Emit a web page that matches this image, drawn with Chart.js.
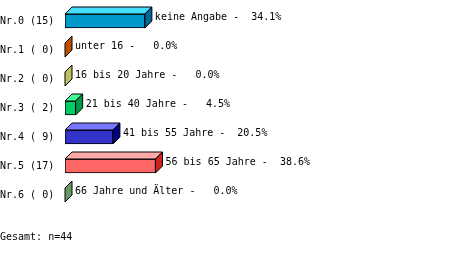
<!DOCTYPE html>
<html>
<head>
<meta charset="utf-8">
<script src="https://cdn.jsdelivr.net/npm/chart.js@4/dist/chart.umd.min.js"></script>
<style>
  html, body { margin: 0; padding: 0; background: #fff; }
  #wrap { width: 459px; height: 253px; }
</style>
</head>
<body>
<div id="wrap"><canvas id="chart"></canvas></div>
<script>
// ----- DATA -----
const categories = ["keine Angabe", "unter 16", "16 bis 20 Jahre", "21 bis 40 Jahre",
  "41 bis 55 Jahre", "56 bis 65 Jahre", "66 Jahre und Älter"];
const counts = [15, 0, 0, 2, 9, 17, 0];
const percents = [34.1, 0.0, 0.0, 4.5, 20.5, 38.6, 0.0];
const total = 44;

const frontColors = ["#0099cc", "#cc5500", "#c8c060", "#00cc66", "#3333cc", "#ff6666", "#669966"];
const topColors = ["#44ddff", "#ee7722", "#e0dc88", "#44ff99", "#7777ff", "#ffaaaa", "#88bb88"];
const sideColors = ["#006699", "#c05000", "#c0c060", "#009944", "#000088", "#cc2222", "#669966"];

const tickLabels = counts.map((c, i) => "Nr." + i + " (" + String(c).padStart(2, " ") + ")");

const FONT = "'DejaVu Sans Mono', monospace";
const DEPTH = 7;

// ----- 3D FACES + VALUE TEXT -----
const bar3d = {
  id: "bar3d",
  afterDatasetsDraw(chart) {
    const ctx = chart.ctx;
    const meta = chart.getDatasetMeta(0);
    ctx.save();
    ctx.lineWidth = 1;
    ctx.strokeStyle = "#000";
    meta.data.forEach((bar, i) => {
      const p = bar.getProps(["x", "y", "base", "height"], true);
      const x0 = p.base, x1 = p.x;
      const top = p.y - p.height / 2, bottom = p.y + p.height / 2;

      if (x1 - x0 > 0.5) {
        ctx.beginPath();
        ctx.moveTo(x0, top);
        ctx.lineTo(x0 + DEPTH, top - DEPTH);
        ctx.lineTo(x1 + DEPTH, top - DEPTH);
        ctx.lineTo(x1, top);
        ctx.closePath();
        ctx.fillStyle = topColors[i];
        ctx.fill();
        ctx.stroke();
      }

      ctx.beginPath();
      ctx.moveTo(x1, top);
      ctx.lineTo(x1 + DEPTH, top - DEPTH);
      ctx.lineTo(x1 + DEPTH, bottom - DEPTH);
      ctx.lineTo(x1, bottom);
      ctx.closePath();
      ctx.fillStyle = sideColors[i];
      ctx.fill();
      ctx.stroke();

      // value text
      const pct = percents[i].toFixed(1) + "%";
      const txt = categories[i] + " -" + pct.padStart(7, " ");
      ctx.font = "10px " + FONT;
      ctx.fillStyle = "#000";
      ctx.textAlign = "left";
      ctx.textBaseline = "middle";
      ctx.fillText(txt, x1 + DEPTH + 3, p.y - 4);
    });
    ctx.restore();
  }
};

new Chart(document.getElementById("chart"), {
  type: "bar",
  data: {
    labels: tickLabels,
    datasets: [{
      data: counts,
      backgroundColor: frontColors,
      borderColor: "#000",
      borderWidth: 1,
      borderSkipped: false,
      barThickness: 14
    }]
  },
  options: {
    indexAxis: "y",
    responsive: true,
    maintainAspectRatio: false,
    animation: false,
    layout: { padding: { top: 6.5, left: 0, right: 0, bottom: 0 } },
    plugins: {
      legend: { display: false },
      tooltip: { enabled: false },
      title: {
        display: true,
        position: "bottom",
        align: "start",
        text: "Gesamt: n=" + total,
        color: "#000",
        font: { family: FONT, size: 10, weight: "normal" },
        padding: { top: 21.5, bottom: 10 }
      }
    },
    scales: {
      x: { display: false, min: 0, max: 74 },
      y: {
        grid: { display: false, drawTicks: false },
        border: { display: false },
        afterFit: (scale) => { scale.width = 65; },
        ticks: {
          color: "#000",
          crossAlign: "far",
          padding: 0,
          font: { family: FONT, size: 10 }
        }
      }
    }
  },
  plugins: [bar3d]
});
</script>
</body>
</html>
